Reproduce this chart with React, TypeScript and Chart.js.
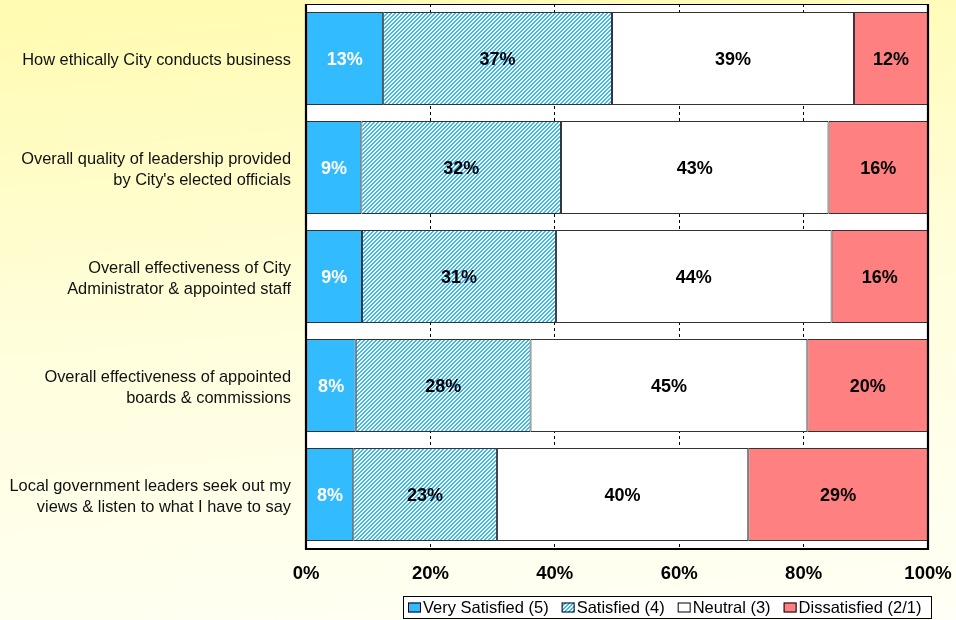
import React, { useEffect, useRef } from "react";
import { Chart, registerables } from "chart.js";

Chart.register(...registerables);

const categories: string[][] = [
  ["How ethically City conducts business"],
  ["Overall quality of leadership provided", "by City's elected officials"],
  ["Overall effectiveness of City", "Administrator & appointed staff"],
  ["Overall effectiveness of appointed", "boards & commissions"],
  ["Local government leaders seek out my", "views & listen to what I have to say"],
];

const seriesNames = ["Very Satisfied (5)", "Satisfied (4)", "Neutral (3)", "Dissatisfied (2/1)"];

// bar segment widths (percent of row)
const verySatisfied = [12.4, 8.9, 9.0, 8.0, 7.6];
const satisfied = [36.8, 32.1, 31.2, 28.1, 23.1];
const neutral = [38.9, 43.0, 44.3, 44.5, 40.4];
const dissatisfied = [11.9, 16.0, 15.5, 19.4, 28.9];

// printed labels
const verySatisfiedLabels = [13, 9, 9, 8, 8];
const satisfiedLabels = [37, 32, 31, 28, 23];
const neutralLabels = [39, 43, 44, 45, 40];
const dissatisfiedLabels = [12, 16, 16, 20, 29];

const xTickStep = 20;
const xMax = 100;

const BLUE = "#33BBFF";
const RED = "#FF8080";
const FONT = "'Liberation Sans', Arial, sans-serif";

function makeHatch(ctxSrc: HTMLCanvasElement): CanvasPattern | string {
  const n = 4;
  const c = document.createElement("canvas");
  c.width = n;
  c.height = n;
  const g = c.getContext("2d");
  if (!g) return BLUE;
  g.fillStyle = "#ffffff";
  g.fillRect(0, 0, n, n);
  for (let y = 0; y < n; y++) {
    const x = (n - 1 - y + n) % n;
    g.fillStyle = BLUE;
    g.fillRect(x, y, 1, 1);
    g.fillRect((x + 1) % n, y, 1, 1);
  }
  const main = ctxSrc.getContext("2d");
  return (main && main.createPattern(c, "repeat")) || BLUE;
}

export default function App() {
  const ref = useRef<HTMLCanvasElement>(null);

  useEffect(() => {
    const canvas = ref.current;
    if (!canvas) return;
    const hatch = makeHatch(canvas);
    const fills: any[] = [BLUE, hatch, "#ffffff", RED];
    const labelSets = [verySatisfiedLabels, satisfiedLabels, neutralLabels, dissatisfiedLabels];
    const seriesData = [verySatisfied, satisfied, neutral, dissatisfied];

    const framePlugin = {
      id: "frame",
      beforeDraw(chart: any) {
        const { ctx, chartArea: a } = chart;
        ctx.save();
        ctx.fillStyle = "#ffffff";
        ctx.fillRect(a.left, a.top, a.right - a.left, a.bottom - a.top);
        ctx.restore();
      },
      afterDatasetsDraw(chart: any) {
        const { ctx, chartArea: a } = chart;
        ctx.save();
        // frame
        ctx.strokeStyle = "#000";
        ctx.lineWidth = 1.2;
        ctx.beginPath();
        ctx.moveTo(a.left, a.top + 0.5);
        ctx.lineTo(a.right, a.top + 0.5);
        ctx.stroke();
        ctx.lineWidth = 2.2;
        ctx.beginPath();
        ctx.moveTo(a.left, a.top);
        ctx.lineTo(a.left, a.bottom);
        ctx.lineTo(a.right, a.bottom);
        ctx.lineTo(a.right, a.top);
        ctx.stroke();

        // data labels
        ctx.font = `bold 18px ${FONT}`;
        ctx.textAlign = "center";
        ctx.textBaseline = "middle";
        chart.data.datasets.forEach((_ds: any, di: number) => {
          const meta = chart.getDatasetMeta(di);
          meta.data.forEach((el: any, i: number) => {
            const p = el.getProps(["x", "base", "y"], true);
            ctx.fillStyle = di === 0 ? "#ffffff" : "#000000";
            ctx.fillText(labelSets[di][i] + "%", (p.x + p.base) / 2, p.y + 2);
          });
        });

        // legend
        const lx = 403, ly = 596, lw = 528, lh = 22;
        ctx.fillStyle = "#ffffff";
        ctx.fillRect(lx, ly, lw, lh);
        ctx.strokeStyle = "#000";
        ctx.lineWidth = 1;
        ctx.strokeRect(lx + 0.5, ly + 0.5, lw, lh);
        ctx.font = `16.5px ${FONT}`;
        ctx.textAlign = "left";
        ctx.textBaseline = "middle";
        let x = lx + 5;
        const cy = ly + lh / 2 + 0.5;
        seriesNames.forEach((name, i) => {
          ctx.fillStyle = fills[i];
          ctx.fillRect(x, cy - 5, 13, 10);
          ctx.strokeStyle = "#000";
          ctx.lineWidth = 1;
          ctx.strokeRect(x + 0.5, cy - 5 + 0.5, 12, 9);
          ctx.fillStyle = "#000";
          const tx = x + 15;
          ctx.fillText(name, tx, cy + 1);
          x = tx + ctx.measureText(name).width + 13;
        });
        ctx.restore();
      },
    };

    const chart = new Chart(canvas, {
      type: "bar",
      data: {
        labels: categories,
        datasets: seriesNames.map((name, i) => ({
          label: name,
          data: seriesData[i],
          backgroundColor: fills[i],
          borderColor: "#333333",
          borderWidth: 1,
          borderSkipped: false,
          categoryPercentage: 0.853,
          barPercentage: 1,
        })),
      },
      options: {
        indexAxis: "y",
        responsive: false,
        animation: false,
        devicePixelRatio: 1,
        layout: { padding: { top: 4, right: 28, bottom: 0, left: 0 } },
        plugins: {
          legend: { display: false },
          tooltip: { enabled: false },
          title: { display: false },
        },
        scales: {
          x: {
            stacked: true,
            min: 0,
            max: xMax,
            ticks: {
              stepSize: xTickStep,
              callback: (v: any) => v + "%",
              font: { family: FONT, size: 18.5, weight: "bold" },
              color: "#000",
              padding: 14,
              maxRotation: 0,
            },
            grid: {
              color: "#000",
              lineWidth: 1,
              drawTicks: false,
              tickLength: 0,
            },
            border: { display: false, dash: [3, 3] },
            afterFit: (s: any) => {
              s.height = 71;
              s.paddingLeft = 0;
              s.paddingRight = 0;
              s.paddingTop = 0;
              s.paddingBottom = 0;
            },
          },
          y: {
            stacked: true,
            ticks: {
              font: { family: FONT, size: 16.4, lineHeight: 1.28 },
              color: "#111",
              padding: 15,
              labelOffset: 2,
            },
            grid: { display: false, drawTicks: false },
            border: { display: false },
            afterFit: (s: any) => {
              s.width = 306;
              s.paddingLeft = 0;
              s.paddingRight = 0;
              s.paddingTop = 0;
              s.paddingBottom = 0;
            },
          },
        },
      } as any,
      plugins: [framePlugin],
    });
    return () => chart.destroy();
  }, []);

  return (
    <div
      style={{
        position: "fixed",
        left: 0,
        top: 0,
        width: 956,
        height: 620,
        background: "linear-gradient(175deg, #FFFBB0 0%, #FFFEDC 50%, #FFFFF6 100%)",
      }}
    >
      <canvas ref={ref} width={956} height={620} style={{ display: "block" }} />
    </div>
  );
}
